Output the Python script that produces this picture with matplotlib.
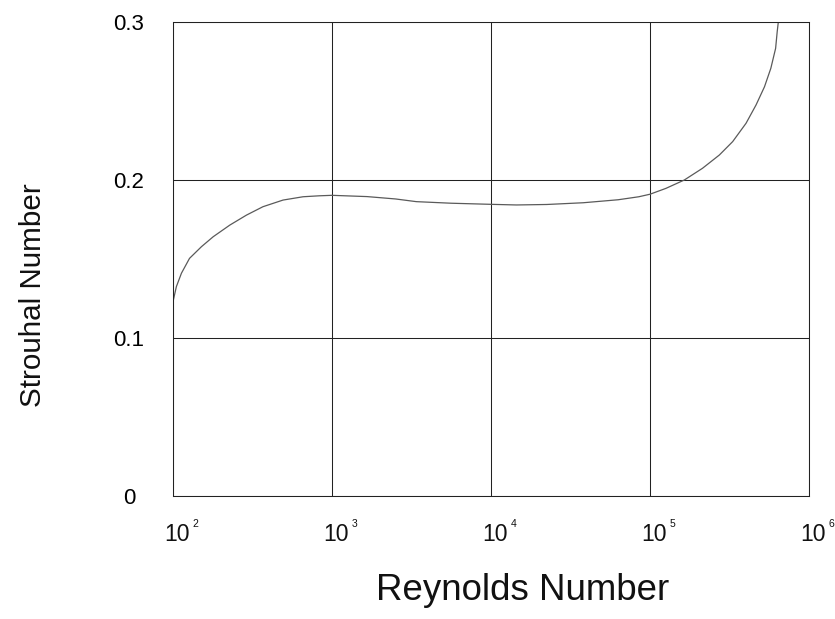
import matplotlib
matplotlib.use("Agg")
import matplotlib.pyplot as plt
import numpy as np

plt.rcParams['font.family'] = ['Liberation Sans', 'DejaVu Sans']

# Data (Reynolds number, Strouhal number)
reynolds = [100, 105, 113, 127, 151, 179, 228, 290, 368, 492, 658, 832,
            1000, 1660, 2510, 3390, 5620, 10000, 14450, 22400, 38000, 63100,
            85100, 100000, 125900, 164400, 213800, 272900, 331100, 401800,
            464500, 524800, 575400, 616600, 631000, 641200]
strouhal = [0.123, 0.1325, 0.141, 0.1504, 0.1578, 0.1641, 0.1715, 0.1778,
            0.1831, 0.1873, 0.1894, 0.1900, 0.1903, 0.1895, 0.1880, 0.1863,
            0.1853, 0.1846, 0.1842, 0.1845, 0.1856, 0.1875, 0.1894, 0.1910,
            0.1947, 0.2000, 0.2074, 0.2158, 0.2243, 0.2359, 0.2475, 0.2590,
            0.2707, 0.2833, 0.2939, 0.3000]

x_ticks = [1e2, 1e3, 1e4, 1e5, 1e6]
x_exponents = ['2', '3', '4', '5', '6']
y_ticks = [0.0, 0.1, 0.2, 0.3]
y_ticklabels = ['0', '0.1', '0.2', '0.3']

fig = plt.figure(figsize=(8.35, 6.19), dpi=100)
ax = fig.add_axes([173/835, 1-496/619, (809-173)/835, (496-22)/619])

ax.plot(reynolds, strouhal, color='#5a5a5a', lw=0.9)

ax.set_xscale('log')
ax.set_xlim(1e2, 1e6)
ax.set_ylim(0, 0.3)
ax.set_xticks(x_ticks)
ax.set_xticklabels([''] * len(x_ticks))
ax.minorticks_off()
ax.set_yticks(y_ticks)
ax.set_yticklabels(y_ticklabels, fontsize=16, ha='center')
ax.tick_params(axis='both', length=0)
ax.tick_params(axis='y', pad=31.7)
ax.grid(True, color='#222222', lw=0.75)
for s in ax.spines.values():
    s.set_color('#222222')
    s.set_linewidth(0.75)

for xv, ex in zip(x_ticks, x_exponents):
    ax.annotate('10', xy=(xv, 0), xycoords=('data', 'axes fraction'),
                xytext=(3.0, -19.3), textcoords='offset points',
                ha='center', va='top', fontsize=16.5, color='#111111',
                annotation_clip=False)
    ax.annotate(ex, xy=(xv, 0), xycoords=('data', 'axes fraction'),
                xytext=(14.0, -16.6), textcoords='offset points',
                ha='left', va='top', fontsize=7.5, color='#111111',
                annotation_clip=False)

fig.text(33/835, 1-295/619, 'Strouhal Number', rotation=90, fontsize=21.3,
         ha='center', va='center', color='#111111')
fig.text(523/835, 1-590/619, 'Reynolds Number', fontsize=26.4,
         ha='center', va='center', color='#111111')

fig.savefig('out.png', dpi=100)
